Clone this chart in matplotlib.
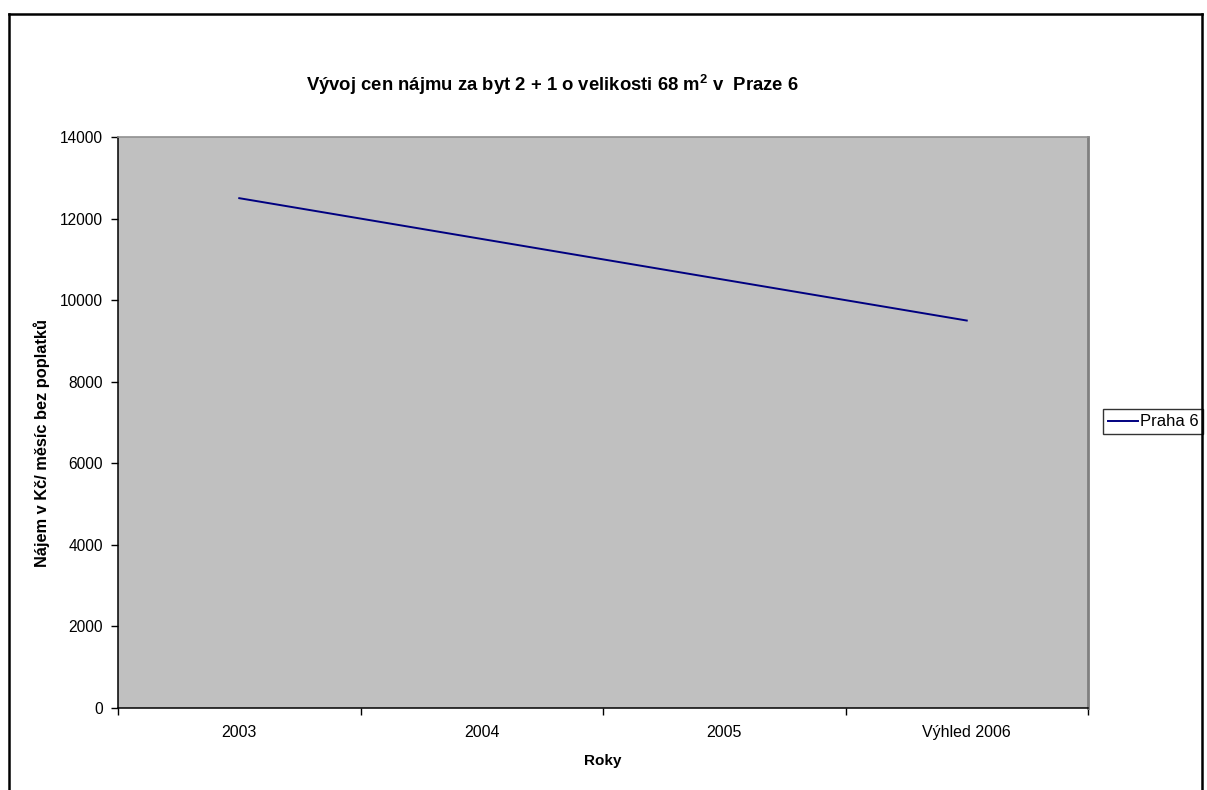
import matplotlib
matplotlib.use("Agg")
import matplotlib.pyplot as plt
from matplotlib.lines import Line2D

plt.rcParams['font.family'] = ['Liberation Sans', 'DejaVu Sans']
plt.rcParams['mathtext.default'] = 'regular'

categories = ["2003", "2004", "2005", "Výhled 2006"]
rent_praha6 = [12500, 11500, 10500, 9500]
series_name = "Praha 6"
y_ticks = [0, 2000, 4000, 6000, 8000, 10000, 12000, 14000]

W, H = 1207, 790
fig = plt.figure(figsize=(W / 100, H / 100), dpi=100)
fig.patch.set_facecolor("white")

# outer chart frame
frame_kw = dict(transform=fig.transFigure, color="black", lw=1.8)
fig.add_artist(Line2D([8.5 / W, 8.5 / W], [0, 1 - 14 / H], **frame_kw))
fig.add_artist(Line2D([1202 / W, 1202 / W], [0, 1 - 14 / H], **frame_kw))
fig.add_artist(Line2D([8.5 / W, 1202 / W], [1 - 14 / H, 1 - 14 / H], **frame_kw))

ax = fig.add_axes([118 / W, (H - 708) / H, 970 / W, 571 / H])
ax.set_facecolor("#c0c0c0")

x = list(range(len(categories)))
ax.plot(x, rent_praha6, color="#000080", lw=1.4, label=series_name)

ax.set_xlim(-0.5, len(categories) - 0.5)
ax.set_ylim(y_ticks[0], y_ticks[-1])
ax.set_yticks(y_ticks)
ax.set_yticklabels([str(v) for v in y_ticks], fontsize=11.2)
ax.set_xticks(x)
ax.set_xticklabels(categories, fontsize=11.5)
ax.set_xticks([i - 0.5 for i in range(len(categories) + 1)], minor=True)
ax.tick_params(axis="x", which="major", length=0, pad=12)
ax.tick_params(axis="x", which="minor", length=5, width=1, direction="out")
ax.tick_params(axis="y", length=5, width=1, direction="out", pad=6)

ax.spines["top"].set_color("#909090")
ax.spines["top"].set_linewidth(1.2)
ax.spines["right"].set_color("#808080")
ax.spines["right"].set_linewidth(2)
for side in ("left", "bottom"):
    ax.spines[side].set_color("black")
    ax.spines[side].set_linewidth(1.1)

ax.set_xlabel("Roky", fontsize=11, fontweight="bold", labelpad=10)
ax.set_ylabel("Nájem v Kč/ měsíc bez poplatků", fontsize=11.8, fontweight="bold", va="center")
ax.yaxis.set_label_coords((41.5 - 118) / 970, (708 - 443) / 571)

fig.text(552 / W, 1 - 85 / H, "Vývoj cen nájmu za byt 2 + 1 o velikosti 68 m$^2$ v  Praze 6",
         ha="center", va="center", fontsize=13.3, fontweight="bold")

leg = ax.legend(loc="center left", bbox_to_anchor=(1103 / W, 1 - 422 / H),
                bbox_transform=fig.transFigure, fontsize=12, frameon=True,
                fancybox=False, edgecolor="black", borderpad=0.3,
                handlelength=1.8, handletextpad=0.1, borderaxespad=0)
leg.get_frame().set_linewidth(1)

fig.savefig("out.png", dpi=100, facecolor="white")
